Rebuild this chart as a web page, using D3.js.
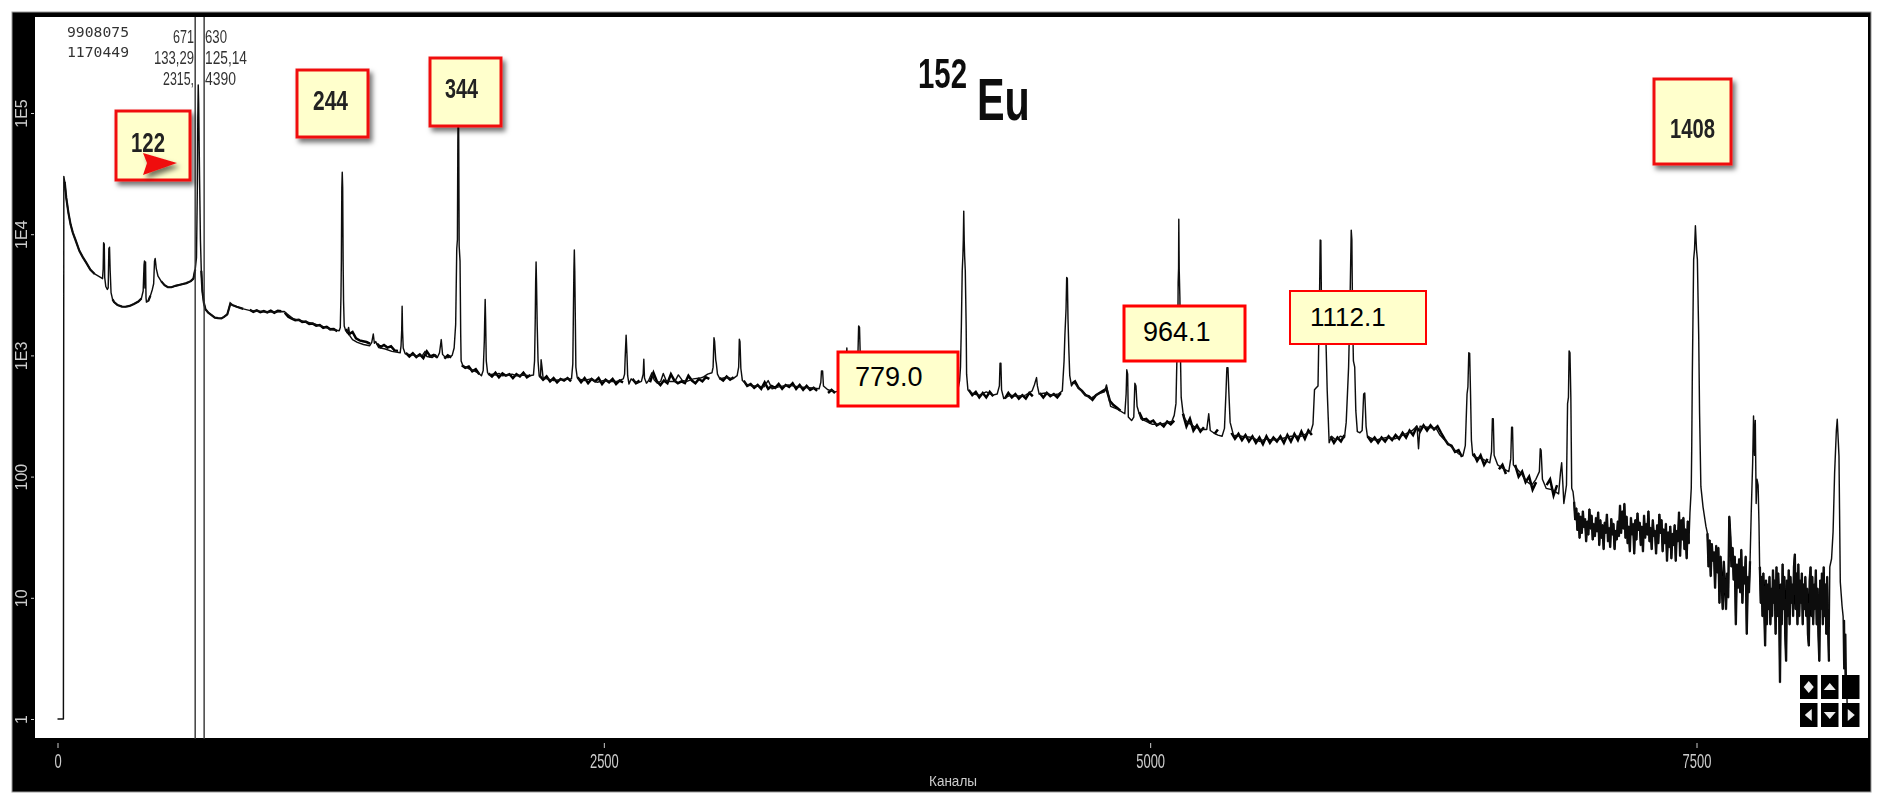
<!DOCTYPE html>
<html>
<head>
<meta charset="utf-8">
<script src="https://d3js.org/d3.v7.min.js"></script>
<style>
  html, body { margin: 0; padding: 0; background: #fff; }
  svg { display: block; }
</style>
</head>
<body>
<div id="chart"></div>
<script>
// Tick labels
const xTickValues = [0, 2500, 5000, 7500];
const xTickLabels = ["0", "2500", "5000", "7500"];
const yTickValues = [1, 10, 100, 1000, 10000, 100000];
const yTickLabels = ["1", "10", "100", "1E3", "1E4", "1E5"];

// Cursors and read-out
const cursorChannels = [630, 671];
const totalsText = ["9908075", "1170449"];
const cursorLeftText = ["671", "133,29", "2315,"];
const cursorRightText = ["630", "125,14", "4390"];

const peakLabels = ["122", "244", "344", "1408"];
const lineLabels = ["779.0", "964.1", "1112.1"];

// Spectrum up to the noisy tail: [channel, counts]
const spectrumHead = [
  [0,1],[27,1],[29,30000],[33,27000],[40,20000],[50,15000],[60,12000],[70,10300],[82,9000],[100,7300],[115,6500],[132,5800],[150,5100],[170,4700],[197,4400],[206,4300],[209,5200],[211,8500],[214,8300],[216,4400],[221,3700],[228,3500],[232,3600],[235,7600],[238,7800],[241,5000],[245,3300],[252,2900],[259,2750],[275,2600],[295,2530],[311,2520],[330,2560],[350,2660],[370,2780],[384,2950],[392,3400],[396,5600],[398,6000],[400,3600],[403,5900],[405,3000],[407,2750],[415,2800],[425,3100],[434,3500],[440,3900],[444,6000],[447,6300],[452,5200],[460,4500],[474,4100],[490,3800],[505,3650],[521,3650],[540,3750],[565,3850],[590,3950],[610,4100],[622,4300],[630,5100],[636,6400],
  [640,25000],[642,90000],[644,170000],[646,120000],[650,30000],[654,9000],[658,5000],[663,3400],[670,2700],[677,2400],[690,2250],[705,2150],[720,2050],[735,2030],[750,2020],[762,2080],[777,2180],[785,2450],[791,2680],[800,2600],[820,2520],[850,2420],[882,2340],[920,2310],[960,2280],[1000,2290],[1038,2300],[1050,2200],[1079,2000],[1100,1960],[1130,1900],[1160,1850],[1190,1780],[1220,1720],[1250,1640],[1289,1600],[1294,1700],[1297,3000],[1299,6000],[1301,24000],[1303,32400],[1305,24000],[1307,6000],[1309,2800],[1312,1750],[1317,1640],[1325,1540],[1332,1700],[1338,1450],[1350,1350],[1372,1280],[1400,1230],[1428,1200],[1438,1280],[1445,1500],[1450,1260],[1456,1300],[1470,1160],[1500,1130],[1530,1080],[1568,1050],[1572,1200],[1575,1600],[1577,2540],[1579,1600],[1582,1150],[1591,1030],[1620,1010],[1650,990],[1670,1000],[1682,1080],[1690,980],[1715,960],[1730,1010],[1738,960],[1748,1050],[1756,1350],[1762,1020],[1775,960],[1790,960],[1806,1000],[1815,1150],[1822,1800],[1827,7600],[1830,9000],[1832,60000],[1834,130000],[1836,60000],[1838,8000],[1842,6000],[1845,1500],[1847,900],[1855,820],[1870,800],[1885,770],[1905,750],[1928,710],[1940,680],[1948,750],[1953,1300],[1955,2000],[1957,2900],[1959,2000],[1962,900],[1968,720],[1975,690],[1990,700],[2005,690],[2020,710],[2035,680],[2060,690],[2080,700],[2100,680],[2130,690],[2160,680],[2178,690],[2183,900],[2186,1900],[2188,4000],[2190,5900],[2192,4000],[2195,1800],[2199,900],[2204,680],[2210,660],[2213,920],[2217,800],[2222,650],[2240,640],[2270,620],[2300,630],[2330,640],[2352,640],[2358,850],[2361,2500],[2363,5000],[2365,7400],[2367,5000],[2369,2400],[2372,800],[2378,660],[2384,640],[2410,620],[2440,640],[2470,600],[2500,620],[2530,610],[2560,610],[2589,640],[2595,700],[2598,1000],[2602,1470],[2606,1000],[2609,680],[2615,580],[2625,640],[2640,610],[2654,590],[2672,610],[2680,700],[2683,930],[2686,650],[2695,590],[2705,620],[2720,720],[2730,630],[2745,590],[2760,610],[2772,710],[2785,620],[2800,610],[2825,610],[2841,690],[2860,620],[2880,610],[2910,640],[2940,650],[2953,660],[2975,700],[2995,720],[3000,800],[3004,1400],[3007,1300],[3012,920],[3015,850],[3020,700],[3031,640],[3060,660],[3090,640],[3110,680],[3117,800],[3120,1360],[3123,1300],[3127,780],[3134,620],[3158,570],[3190,560],[3233,550],[3252,620],[3270,530],[3300,550],[3345,570],[3390,550],[3440,540],[3485,530],[3493,600],[3496,745],[3501,745],[3505,560],[3525,520],[3560,500],[3590,520],[3605,620],[3612,1150],[3618,560],[3650,560],[3662,900],[3666,1750],[3670,1700],[3674,900],[3680,520],[3800,520],[3950,520],[4080,500],[4120,520],[4128,620],[4132,800],
  [4136,1750],[4140,5000],[4143,6600],[4145,9000],[4147,15500],[4149,9000],[4151,6600],[4154,5000],[4158,1750],[4160,700],[4166,520],[4190,480],[4220,470],[4250,500],[4280,470],[4300,480],[4310,560],[4313,860],[4317,860],[4320,520],[4330,440],[4360,470],[4390,460],[4430,470],[4460,510],[4470,570],[4480,656],[4484,560],[4492,480],[4520,490],[4550,470],[4580,480],[4598,510],[4606,900],[4610,1500],[4615,2400],[4618,4400],[4621,4300],[4624,2000],[4628,1100],[4632,680],[4640,560],[4650,600],[4662,570],[4690,500],[4726,440],[4760,480],[4791,500],[4800,570],[4812,440],[4819,380],[4850,360],[4884,330],[4890,480],[4893,760],[4897,700],[4900,310],[4915,290],[4925,310],[4930,590],[4935,560],[4940,380],[4948,340],[4958,300],[4975,290],[5010,270],[5050,270],[5099,285],[5110,320],[5118,400],[5122,870],[5126,1000],[5128,4000],[5130,5200],[5131,13300],[5133,5000],[5136,3000],[5139,900],[5142,450],[5150,340],[5158,300],[5171,280],[5200,260],[5230,245],[5259,245],[5268,330],[5275,240],[5290,230],[5310,220],[5329,215],[5340,250],[5347,500],[5351,790],[5356,790],[5360,500],[5366,280],[5381,220],[5420,215],[5469,210],[5500,195],[5530,205],[5557,200],[5600,205],[5644,215],[5690,215],[5735,235],[5745,270],[5752,520],[5760,540],[5768,560],[5772,1500],[5775,3000],[5778,8950],[5781,8900],[5784,2500],[5790,1300],[5794,2200],[5800,2300],[5805,1200],[5810,520],[5815,300],[5819,190],[5830,215],[5850,200],[5870,215],[5889,210],[5897,280],[5903,493],[5908,800],[5913,2000],[5916,4000],[5920,10800],[5923,9000],[5926,2200],[5930,900],[5936,800],[5941,350],[5948,235],[5960,230],[5970,240],[5977,480],[5982,490],[5988,260],[5994,215],[6030,200],[6081,210],[6120,205],[6169,225],[6200,240],[6221,262],[6228,170],[6235,260],[6270,255],[6309,250],[6326,220],[6344,203],[6380,175],[6410,155],[6431,148],[6442,180],[6450,480],[6454,550],[6458,1050],[6462,1040],[6466,480],[6470,200],[6476,150],[6484,145],[6520,140],[6554,130],[6562,160],[6566,300],[6570,300],[6574,150],[6590,125],[6620,115],[6641,110],[6650,140],[6654,255],[6658,255],[6662,125],[6670,120],[6700,105],[6720,92],[6746,85],[6765,95],[6781,110],[6785,170],[6789,165],[6795,95],[6812,80],[6840,78],[6869,72],[6878,110],[6883,130],[6888,90],[6893,60],[6905,85],[6910,400],[6914,450],[6917,1090],[6921,1050],[6925,450],[6929,80],[6935,75]
];

// Fuzz of the baseline between the peaks: [first channel, counts every 16 channels]
const baselineRuns = [
  [880, [2380,2290,2350,2270,2320,2260,2340,2250,2330,2310]],
  [1040, [2250,2080,2010,1950,1970,1890,1900,1820,1830,1760,1780,1690,1720,1640,1650,1580]],
  [1318, [1640,1500,1560,1380,1330,1310,1290,1250,1200,1250,1170,1220,1160,1190,1100,1090]],
  [1594, [1050,980,1040,970,1020,950,1080,980,1010,960,1030,940,1000,960]],
  [1850, [830,790,810,740,770,700,730]],
  [1972, [710,670,720,660,710,680,700,650,700,670,720,660,690]],
  [2206, [680,630,670,610,650,600,640,620,650,610]],
  [2380, [660,600,650,590,640,610,650,580,630,600,640,580,620,600]],
  [2615, [570,640,590,620,570,610,600,720,610,570,620,590,700,620,590,610,590,680,620,590,640,610,660,640]],
  [3030, [650,620,670,630,660,620]],
  [3140, [620,560,580,540,570,530,600,530,560,540,580,530,570,550,590,530,570,520,560,520,540,510]],
  [3510, [530,490,520,490]],
  [4170, [520,470,500,450,490,450,500,460]],
  [4335, [440,490,450,480,440,470,440,490,460]],
  [4495, [490,450,490,460,480,450,490]],
  [4640, [580,610,540,510,470,460,430,470,490,510,530,420,390,370,350]],
  [4950, [340,295,300,280,290,265,275,260,285,270,290]],
  [5150, [330,260,300,240,265,235,255,225,250,225,245]],
  [5372, [230,205,225,200,220,195,215,190,210,185,215,190,210,195,215,190,220,195,225,200,235,205,240,220]],
  [5825, [215,190,210,195,220]],
  [5995, [215,195,210,190,210,195,215,200,220,205,230,210,240,220,255,235,265,240,265,245,260,230,205,185,180,160,165,145]],
  [6480, [155,135,150,125,140]],
  [6580, [135,115,125,105,120]],
  [6670, [125,100,110,90,100,78,90,85,115,85,95,70,85]],
];

// Noisy tail, every 5 channels from 6940
const tailAStart = 6940;
const tailACounts = [62,44,55,36,50,31,47,34,52,38,45,29,43,33,54,37,48,30,41,32,46,35,51,27,44,31,40,25,42,34,49,29,38,26,45,33,41,25,36,30,43,32,58,34,52,37,60,31,47,28,39,24,46,33,41,23,44,30,50,36,42,27,39,24,48,31,41,33,52,29,38,25,44,32,36,23,40,28,49,34,44,24,37,28,41,20,35,26,39,21,34,27,40,20,36,29,51,22,44,30,46,25,37,21,43,28];

// 1408 keV peak
const peak1408 = [
  [7470,50],[7476,80],[7478,160],[7481,730],[7487,6200],[7491,7500],[7495,11750],[7500,7500],[7504,6200],[7510,1500],[7514,340],[7520,83],[7530,56],[7543,39]
];

// Noise between 1408 and the next peak, every 5 channels from 7550
const tailBStart = 7550;
const tailBCounts = [34,18,30,15,28,20,24,12,27,16,26,9,22,14,8,20,13,8,16,10,47,32,18,26,14,22,6,19,12,21,11,25,9,18,13,22,5,15,11,20];

const peakTail = [
  [7751,55],[7757,130],[7761,316],[7765,150],[7769,290],[7773,60],[7777,95],[7782,85],[7786,40],[7789,17]
];

// Noise before the last peak, every 4 channels from 7790
const tailCStart = 7790;
const tailCCounts = [18,9,15,7,16,8,4,14,6,13,8,15,6,12,7,17,9,14,5,18,7,16,9,2,13,6,19,8,15,5,3,14,7,17,6,15,9,13,7,18,23,8,16,6,19,7,14,9,16,6,13,8,15,7,12,5,4,14,18,7,15,6,13,8,17,6,12,5,3,14,8,16,6,18,7,13,5,15,6,3];

const spectrumEnd = [
  [8110,18],[8118,21],[8125,35],[8132,107],[8140,240],[8144,297],[8148,210],[8152,147],[8158,13.5],[8166,8.6],[8171,7],[8174,2.6],[8177,6.5],[8180,2.2],[8183,5],[8186,1.9],[8188,1.6],[8190,1.2]
];

// Channels where the line stays thin
const peakChannels = [210,237,400,447,644,1303,1445,1577,1756,1834,1957,2190,2365,2602,2683,3005,3121,3498,3612,3668,4147,4315,4480,4619,4894,4933,5131,5268,5354,5780,5800,5920,5980,6460,6568,6656,6787,6883,6918];

const w = 1879;
const h = 804;

const tailA = tailACounts.map((c, i) => [tailAStart + i * 5, c]);
const tailB = tailBCounts.map((c, i) => [tailBStart + i * 5, c]);
const tailC = tailCCounts.map((c, i) => [tailCStart + i * 4, c]);
const spectrum = [...spectrumHead, ...tailA, ...peak1408, ...tailB, ...peakTail, ...tailC, ...spectrumEnd];
const baseline = baselineRuns.map((run) => run[1].map((c, i) => [run[0] + i * 16, c]));

const svg = d3.select("#chart").append("svg").attr("width", w).attr("height", h);

// Filters
const defs = svg.append("defs");
const blurFilter = (id, sd) =>
  defs.append("filter").attr("id", id)
    .attr("filterUnits", "userSpaceOnUse")
    .attr("x", 0).attr("y", 0).attr("width", w).attr("height", h)
    .append("feGaussianBlur").attr("stdDeviation", sd);
blurFilter("soft", 0.7);
const shadow = defs.append("filter").attr("id", "shadow")
  .attr("x", "-20%").attr("y", "-20%").attr("width", "150%").attr("height", "150%");
shadow.append("feDropShadow")
  .attr("dx", 3).attr("dy", 4).attr("stdDeviation", 2.5)
  .attr("flood-color", "#000").attr("flood-opacity", 0.55);

// Frame
const frame = { x0: 12, y0: 12, x1: 1871, y1: 792, left: 35, top: 17, right: 1868, bottom: 738 };
const scene = svg.append("g").attr("filter", "url(#soft)");
scene.append("rect")
  .attr("x", frame.x0).attr("y", frame.y0)
  .attr("width", frame.x1 - frame.x0).attr("height", frame.y1 - frame.y0)
  .attr("fill", "#000").attr("stroke", "#999").attr("stroke-width", 1);
scene.append("rect")
  .attr("x", frame.left).attr("y", frame.top)
  .attr("width", frame.right - frame.left).attr("height", frame.bottom - frame.top)
  .attr("fill", "#fff");

// Scales
const xScale = d3.scaleLinear().domain([0, 7500]).range([57.5, 1696.5]);
const yScale = d3.scaleLog().domain([1, 100000]).range([719, 113]);

// Axes
const xAxis = d3.axisBottom(xScale).tickValues(xTickValues).tickSize(5).tickSizeOuter(0)
  .tickFormat((d, i) => xTickLabels[i]);
const yAxis = d3.axisLeft(yScale).tickValues(yTickValues).tickSize(3).tickSizeOuter(0)
  .tickFormat((d, i) => yTickLabels[i]);

const gx = scene.append("g").attr("transform", "translate(0," + (frame.bottom + 5) + ")").call(xAxis);
gx.select(".domain").remove();
gx.selectAll("line").attr("stroke", "#ccc");
gx.selectAll("text")
  .attr("y", 25).attr("dy", null)
  .attr("fill", "#ccc")
  .attr("font-family", "'Liberation Sans', sans-serif")
  .attr("font-size", 21)
  .attr("lengthAdjust", "spacingAndGlyphs")
  .attr("textLength", (d, i) => xTickLabels[i].length * 7.2);

const gy = scene.append("g").attr("transform", "translate(" + (frame.left - 1) + ",0)").call(yAxis);
gy.select(".domain").remove();
gy.selectAll("line").attr("stroke", "#ccc");
gy.selectAll("text")
  .attr("x", null).attr("dy", null)
  .attr("transform", "translate(-7,0) rotate(-90)")
  .attr("text-anchor", "middle")
  .attr("y", 0)
  .attr("fill", "#ccc")
  .attr("font-family", "'Liberation Sans', sans-serif")
  .attr("font-size", 16);

scene.append("text")
  .attr("x", 953).attr("y", 786)
  .attr("text-anchor", "middle")
  .attr("fill", "#ccc")
  .attr("font-family", "'Liberation Sans', sans-serif")
  .attr("font-size", 14)
  .attr("lengthAdjust", "spacingAndGlyphs")
  .attr("textLength", 48)
  .text("Каналы");

// Spectrum
const nearPeak = (ch) => peakChannels.some((p) => Math.abs(p - ch) < 14);
const line = d3.line().x((d) => xScale(d[0])).y((d) => yScale(d[1]));
const lineLow = d3.line()
  .defined((d) => d[0] > 30 && d[0] < 880 && !nearPeak(d[0]))
  .x((d) => xScale(d[0])).y((d) => yScale(d[1]));
const lineRun = d3.line()
  .defined((d) => !nearPeak(d[0]))
  .x((d) => xScale(d[0])).y((d) => yScale(d[1]));

scene.append("path").datum(spectrum)
  .attr("d", lineLow)
  .attr("fill", "none").attr("stroke", "#111").attr("stroke-width", 2.2);
scene.selectAll(".base").data(baseline).enter().append("path")
  .attr("class", "base")
  .attr("d", lineRun)
  .attr("fill", "none").attr("stroke", "#000").attr("stroke-width", 2.5);
scene.selectAll(".tail").data([tailA, tailB, tailC]).enter().append("path")
  .attr("class", "tail")
  .attr("d", line)
  .attr("fill", "none").attr("stroke", "#000").attr("stroke-width", 2.3);
scene.append("path").datum(spectrum)
  .attr("d", line)
  .attr("fill", "none").attr("stroke", "#111").attr("stroke-width", 1.45)
  .attr("stroke-linejoin", "round");

// Cursors
scene.selectAll(".cursor").data(cursorChannels).enter().append("line")
  .attr("class", "cursor")
  .attr("x1", (d) => xScale(d)).attr("x2", (d) => xScale(d))
  .attr("y1", frame.top).attr("y2", frame.bottom + 1)
  .attr("stroke", "#333").attr("stroke-width", 1.4);

// Read-out
scene.selectAll(".total").data(totalsText).enter().append("text")
  .attr("class", "total")
  .attr("x", 67).attr("y", (d, i) => 37 + i * 20)
  .attr("fill", "#333")
  .attr("font-family", "'DejaVu Sans Mono', monospace")
  .attr("font-size", 14)
  .attr("textLength", 62).attr("lengthAdjust", "spacingAndGlyphs")
  .text((d) => d);
const readoutRow = [43, 64, 85];
const readLeftWidth = [21, 40, 31];
const readRightWidth = [22, 42, 31];
scene.selectAll(".readL").data(cursorLeftText).enter().append("text")
  .attr("class", "readL")
  .attr("x", (d, i) => 194 - readLeftWidth[i]).attr("y", (d, i) => readoutRow[i])
  .attr("fill", "#333")
  .attr("font-family", "'Liberation Sans', sans-serif")
  .attr("font-size", 18)
  .attr("textLength", (d, i) => readLeftWidth[i]).attr("lengthAdjust", "spacingAndGlyphs")
  .text((d) => d);
scene.selectAll(".readR").data(cursorRightText).enter().append("text")
  .attr("class", "readR")
  .attr("x", 205).attr("y", (d, i) => readoutRow[i])
  .attr("fill", "#333")
  .attr("font-family", "'Liberation Sans', sans-serif")
  .attr("font-size", 18)
  .attr("textLength", (d, i) => readRightWidth[i]).attr("lengthAdjust", "spacingAndGlyphs")
  .text((d) => d);

// Title, squeezed with a transform so the two parts keep their own width
scene.append("text")
  .attr("transform", "translate(918,88) scale(0.7,1)")
  .attr("font-family", "'Liberation Sans', sans-serif")
  .attr("font-weight", "bold").attr("font-size", 42)
  .attr("fill", "#111")
  .text("152");
scene.append("text")
  .attr("transform", "translate(977,120) scale(0.69,1)")
  .attr("font-family", "'Liberation Sans', sans-serif")
  .attr("font-weight", "bold").attr("font-size", 60)
  .attr("fill", "#111")
  .text("Eu");

// Navigation buttons
const btnCols = [1800, 1821, 1842];
const btnRows = [675, 703];
const btnW = 17.5;
const btnH = 24;
const icons = [
  ["M-5,0L0,-6L5,0L0,6Z", "M-6,3L0,-4L6,3Z", ""],
  ["M3,-6L-4,0L3,6Z", "M-6,-3L0,4L6,-3Z", "M-3,-6L4,0L-3,6Z"],
];
btnRows.forEach((by, r) => {
  btnCols.forEach((bx, c) => {
    scene.append("rect").attr("x", bx).attr("y", by).attr("width", btnW).attr("height", btnH).attr("fill", "#000");
    if (icons[r][c]) {
      scene.append("path")
        .attr("transform", "translate(" + (bx + btnW / 2) + "," + (by + btnH / 2) + ")")
        .attr("d", icons[r][c]).attr("fill", "#eee");
    }
  });
});

// Red framed labels from the original figure
const boxFill = "#ffffcc";
const boxRed = "#f01010";
const peakBoxes = [
  { x: 116, y: 111, w: 74, h: 69, tx: 131, ty: 152, tw: 34 },
  { x: 297, y: 70, w: 71, h: 67, tx: 313, ty: 110, tw: 35 },
  { x: 430, y: 58, w: 71, h: 68, tx: 445, ty: 98, tw: 33 },
  { x: 1654, y: 79, w: 77, h: 85, tx: 1670, ty: 138, tw: 45 },
];
const labels = svg.append("g").attr("filter", "url(#soft)");
peakBoxes.forEach((b, i) => {
  labels.append("rect")
    .attr("x", b.x).attr("y", b.y).attr("width", b.w).attr("height", b.h)
    .attr("fill", boxFill).attr("stroke", boxRed).attr("stroke-width", 3)
    .attr("filter", "url(#shadow)");
  labels.append("text")
    .attr("x", b.tx).attr("y", b.ty)
    .attr("font-family", "'Liberation Sans', sans-serif")
    .attr("font-weight", "bold").attr("font-size", 28)
    .attr("textLength", b.tw).attr("lengthAdjust", "spacingAndGlyphs")
    .attr("fill", "#222")
    .text(peakLabels[i]);
});

// Red arrow on the 122 label
labels.append("path")
  .attr("d", "M177,163L143,153L147,163L143,175Z")
  .attr("fill", "#f01010")
  .attr("filter", "url(#shadow)");

const lineBoxes = [
  { x: 838, y: 352, w: 120, h: 54, tx: 855, ty: 386, sw: 3, fs: 27 },
  { x: 1124, y: 306, w: 121, h: 55, tx: 1143, ty: 341, sw: 3, fs: 27 },
  { x: 1290, y: 291, w: 136, h: 53, tx: 1310, ty: 326, sw: 2, fs: 26 },
];
lineBoxes.forEach((b, i) => {
  svg.append("rect")
    .attr("x", b.x).attr("y", b.y).attr("width", b.w).attr("height", b.h)
    .attr("fill", boxFill).attr("stroke", "#ff0000").attr("stroke-width", b.sw);
  svg.append("text")
    .attr("x", b.tx).attr("y", b.ty)
    .attr("font-family", "'Liberation Sans', Arial, sans-serif")
    .attr("font-size", b.fs)
    .attr("fill", "#000")
    .text(lineLabels[i]);
});
</script>
</body>
</html>
